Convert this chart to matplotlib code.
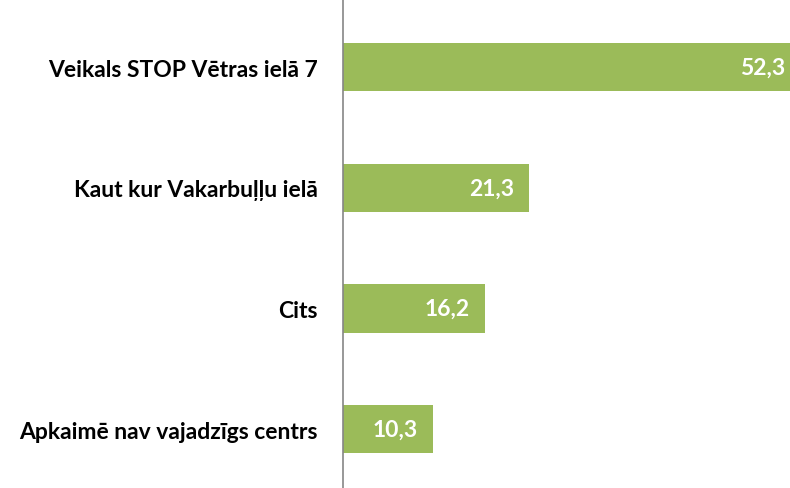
import matplotlib
matplotlib.use("Agg")
import matplotlib.pyplot as plt

categories = ["Veikals STOP Vētras ielā 7", "Kaut kur Vakarbuļļu ielā", "Cits", "Apkaimē nav vajadzīgs centrs"]
values = [52.3, 21.3, 16.2, 10.3]
value_labels = ["52,3", "21,3", "16,2", "10,3"]

plt.rcParams['font.family'] = ['Lato', 'DejaVu Sans']

fig = plt.figure(figsize=(7.9, 4.89), dpi=100)
ax = fig.add_axes([343/790, 0, 447/790, 1])

pos = list(range(len(categories)))
ax.barh(pos, values, height=0.4, color="#9BBB59", zorder=2)
ax.set_xlim(0, 51.14)
ax.set_ylim(3.488, -0.566)

for p, v, lab in zip(pos, values, value_labels):
    ax.annotate(lab, (v, p), xytext=(-11, 0), textcoords="offset points",
                ha="right", va="center", color="white", fontweight="bold",
                fontsize=16.5, annotation_clip=False, clip_on=True)

ax.set_yticks(pos)
ax.set_yticklabels(categories, fontsize=16.5, fontweight="bold", color="black")
ax.tick_params(axis="y", length=0, pad=18)
ax.set_xticks([])
for s in ["top", "right", "bottom"]:
    ax.spines[s].set_visible(False)
ax.spines["left"].set_color("#868686")
ax.spines["left"].set_linewidth(1.2)

fig.savefig("out.png", dpi=100)
